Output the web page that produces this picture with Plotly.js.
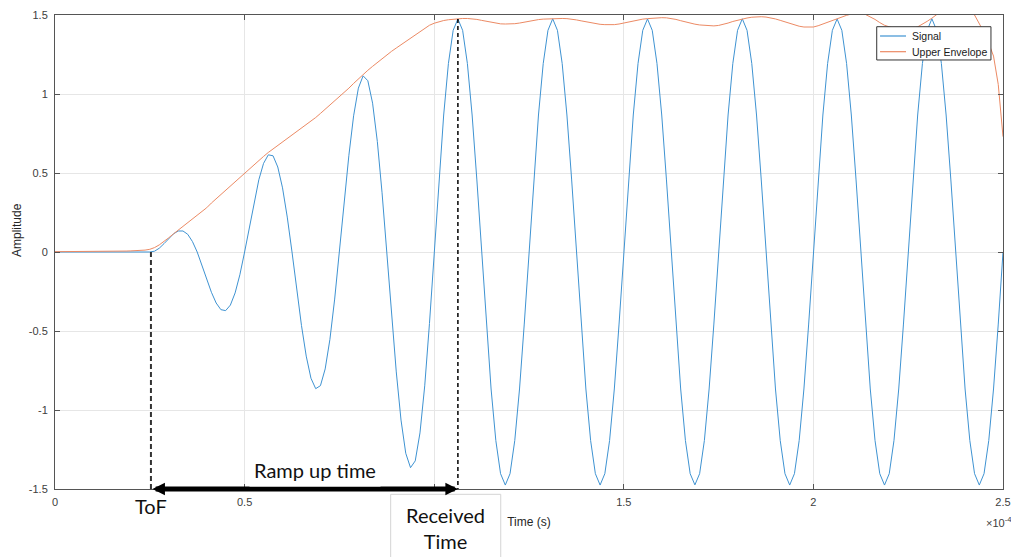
<!DOCTYPE html>
<html>
<head>
<meta charset="utf-8">
<script src="https://cdn.plot.ly/plotly-3.0.1.min.js"></script>
<style>
  html, body { margin: 0; padding: 0; background: #ffffff; }
  #chart { width: 1011px; height: 557px; }
</style>
</head>
<body>
<div id="chart"></div>
<script>
// ---- data ----
const samplePeriod = 1.25e-6;          // seconds between samples
const signalValues = [
  0,0,0,0,0,0,0,0,0,0, 0,0,0,0,0,0,0,0,0,0,
  0,0.005,0.024,0.053,0.086,0.115,0.133,0.133,0.112,0.066,
  0,-0.082,-0.171,-0.255,-0.323,-0.365,-0.371,-0.336,-0.259,-0.144,
  0,0.159,0.318,0.457,0.561,0.615,0.609,0.538,0.406,0.221,
  0,-0.236,-0.465,-0.659,-0.799,-0.865,-0.846,-0.740,-0.553,-0.298,
  0,0.314,0.612,0.862,1.037,1.115,1.084,0.942,0.700,0.375,
  0,-0.391,-0.759,-1.064,-1.274,-1.365,-1.322,-1.145,-0.847,-0.453,
  0,0.456,0.867,1.193,1.403,1.475,1.403,1.193,0.867,0.456,
  0,-0.456,-0.867,-1.193,-1.403,-1.475,-1.403,-1.193,-0.867,-0.456,
  0,0.456,0.867,1.193,1.403,1.476,1.403,1.193,0.867,0.456,
  0,-0.456,-0.867,-1.193,-1.403,-1.475,-1.403,-1.193,-0.867,-0.456,
  0,0.456,0.867,1.193,1.403,1.475,1.403,1.193,0.867,0.456,
  0,-0.456,-0.867,-1.193,-1.403,-1.474,-1.403,-1.193,-0.867,-0.456,
  0,0.456,0.867,1.193,1.403,1.476,1.403,1.193,0.867,0.456,
  0,-0.456,-0.867,-1.193,-1.403,-1.475,-1.403,-1.193,-0.867,-0.456,
  0,0.456,0.867,1.193,1.403,1.475,1.403,1.193,0.867,0.456,
  0,-0.456,-0.867,-1.193,-1.403,-1.475,-1.403,-1.193,-0.867,-0.456,
  0,0.456,0.867,1.193,1.403,1.476,1.403,1.193,0.867,0.456,
  0,-0.456,-0.867,-1.193,-1.403,-1.475,-1.403,-1.193,-0.867,-0.456,
  0
];
const envelopeValues = [
  0.002,0.002,0.002,0.002,0.002,0.003,0.003,0.003,0.003,0.003,
  0.004,0.004,0.004,0.005,0.005,0.006,0.007,0.008,0.009,0.012,
  0.017,0.028,0.045,0.066,0.09,0.115,0.138,0.161,0.185,0.208,
  0.232,0.255,0.28,0.31,0.337,0.364,0.392,0.419,0.447,0.474,
  0.502,0.528,0.554,0.58,0.605,0.63,0.652,0.673,0.694,0.715,
  0.736,0.758,0.78,0.802,0.826,0.851,0.877,0.903,0.93,0.955,
  0.98,1.008,1.037,1.067,1.096,1.125,1.15,1.175,1.2,1.225,
  1.248,1.27,1.291,1.312,1.332,1.353,1.374,1.394,1.415,1.435,
  1.448,1.458,1.465,1.47,1.474,1.477,1.478,1.478,1.476,1.472,
  1.466,1.46,1.453,1.447,1.444,1.443,1.443,1.445,1.449,1.455,
  1.461,1.467,1.471,1.474,1.476,1.477,1.478,1.478,1.477,1.474,
  1.469,1.463,1.457,1.45,1.445,1.441,1.439,1.438,1.439,1.443,
  1.45,1.457,1.464,1.47,1.474,1.477,1.48,1.482,1.483,1.482,
  1.478,1.472,1.464,1.456,1.448,1.442,1.437,1.434,1.432,1.431,
  1.434,1.44,1.449,1.459,1.468,1.475,1.481,1.486,1.489,1.489,
  1.487,1.482,1.475,1.466,1.456,1.446,1.437,1.429,1.424,1.422,
  1.424,1.432,1.443,1.456,1.468,1.477,1.488,1.498,1.506,1.51,
  1.51,1.503,1.49,1.472,1.452,1.435,1.425,1.415,1.41,1.408,
  1.41,1.415,1.425,1.44,1.46,1.48,1.505,1.525,1.54,1.55,
  1.555,1.55,1.54,1.525,1.5,1.445,1.39,1.32,1.24,1.06,
  0.73
];
const seriesNames = ['Signal', 'Upper Envelope'];
const seriesColors = ['#3f93d2', '#ec8a64'];
const xTickValues = [0, 0.5e-4, 1e-4, 1.5e-4, 2e-4, 2.5e-4];
const xTickLabels = ['0', '0.5', '', '1.5', '2', '2.5'];   // "1" is hidden under the Received Time box
const yTickValues = [-1.5, -1, -0.5, 0, 0.5, 1, 1.5];
const yTickLabels = ['-1.5', '-1', '-0.5', '0', '0.5', '1', '1.5'];
const timeOfFlight = 0.253e-4;        // ToF marker
const receivedTime = 1.0625e-4;       // received-time marker (first full peak)
const receivedPeak = 1.475;
const rampLabelTime = 0.686e-4;

// sample times
const sampleTimes = signalValues.map((_, i) => i * samplePeriod);

const axisFontFamily = 'Liberation Sans, Arial, sans-serif';
const tickFont = { family: axisFontFamily, size: 11, color: '#404040' };
const titleFont = { family: axisFontFamily, size: 12, color: '#262626' };
const noteFont = { family: 'Lato, Noto Sans, sans-serif', size: 20, color: '#111111' };

const traces = [
  { x: sampleTimes, y: signalValues, name: seriesNames[0], type: 'scatter', mode: 'lines',
    line: { color: seriesColors[0], width: 1 }, showlegend: false },
  { x: sampleTimes, y: envelopeValues, name: seriesNames[1], type: 'scatter', mode: 'lines',
    line: { color: seriesColors[1], width: 1 }, showlegend: false }
];

// legend box geometry (paper coords)
const lgX0 = 0.8668, lgX1 = 0.9873, lgY0 = 0.9051, lgY1 = 0.9753;
const lgRows = [0.9557, 0.9226];
const lgLineX = [0.8703, 0.8977];
const lgTextX = 0.9019;

const legendShapes = [
  { type: 'rect', xref: 'paper', yref: 'paper', layer: 'above',
    x0: lgX0, x1: lgX1, y0: lgY0, y1: lgY1,
    fillcolor: '#ffffff', line: { color: '#333333', width: 1 } }
].concat(seriesNames.map((n, i) => ({
    type: 'line', xref: 'paper', yref: 'paper', layer: 'above',
    x0: lgLineX[0], x1: lgLineX[1], y0: lgRows[i], y1: lgRows[i],
    line: { color: seriesColors[i], width: 1.2 } })));

const legendTexts = seriesNames.map((n, i) => ({
  xref: 'paper', yref: 'paper', x: lgTextX, y: lgRows[i], text: n, showarrow: false,
  xanchor: 'left', yanchor: 'middle',
  font: { family: axisFontFamily, size: 10.5, color: '#1a1a1a' } }));

const layout = {
  width: 1011, height: 557,
  margin: { l: 55, r: 8, t: 15, b: 68, pad: 0 },
  paper_bgcolor: '#ffffff', plot_bgcolor: '#ffffff',
  showlegend: false,
  xaxis: {
    range: [0, 2.5e-4], tickmode: 'array', tickvals: xTickValues, ticktext: xTickLabels,
    ticks: 'inside', ticklen: 5, tickcolor: '#555555', tickwidth: 1,
    showline: true, linecolor: '#555555', linewidth: 1, mirror: 'ticks',
    showgrid: true, gridcolor: '#e6e6e6', gridwidth: 1, zeroline: false,
    tickfont: tickFont, fixedrange: true, ticklabelstandoff: 3,
    title: { text: 'Time (s)', font: titleFont, standoff: 10 }
  },
  yaxis: {
    range: [-1.5, 1.5], tickmode: 'array', tickvals: yTickValues, ticktext: yTickLabels,
    ticks: 'inside', ticklen: 5, tickcolor: '#555555', tickwidth: 1,
    showline: true, linecolor: '#555555', linewidth: 1, mirror: 'ticks',
    showgrid: true, gridcolor: '#e6e6e6', gridwidth: 1, zeroline: false,
    tickfont: tickFont, fixedrange: true, ticklabelstandoff: 4
  },
  shapes: [
    { type: 'line', xref: 'x', yref: 'y', x0: timeOfFlight, x1: timeOfFlight, y0: 0, y1: -1.5,
      line: { color: '#333333', width: 2, dash: '5px,3px' } },
    { type: 'line', xref: 'x', yref: 'y', x0: receivedTime, x1: receivedTime, y0: receivedPeak, y1: -1.5,
      line: { color: '#000000', width: 1.5, dash: '4px,3px' } },
    { type: 'rect', xref: 'paper', yref: 'paper', layer: 'above',
      x0: 0.3541, x1: 0.4702, y0: -0.0112, y1: -0.2,
      fillcolor: '#ffffff', line: { color: '#d4d4d4', width: 1 } }
  ].concat(legendShapes),
  annotations: [
    { xref: 'x', yref: 'y', axref: 'x', ayref: 'y',
      x: receivedTime, y: -1.5, ax: timeOfFlight, ay: -1.5,
      text: '', showarrow: true, arrowside: 'end+start',
      arrowhead: 2, startarrowhead: 2, arrowsize: 0.5, startarrowsize: 0.5,
      arrowwidth: 5, arrowcolor: '#000000', standoff: 0, startstandoff: 0 },
    { xref: 'x', yref: 'paper', x: timeOfFlight, y: -0.036, text: 'ToF', showarrow: false,
      xanchor: 'center', yanchor: 'middle', font: noteFont },
    { xref: 'x', yref: 'paper', x: rampLabelTime, y: 0.04, text: 'Ramp up time', showarrow: false,
      xanchor: 'center', yanchor: 'middle', font: noteFont, bgcolor: '#ffffff', borderpad: 4 },
    { xref: 'paper', yref: 'paper', x: 0.4121, y: -0.082, text: 'Received<br>Time', showarrow: false,
      xanchor: 'center', yanchor: 'middle', font: noteFont, align: 'center' },
    { xref: 'paper', yref: 'paper', x: 0.996, y: -0.0696, text: '×10<sup>-4</sup>', showarrow: false,
      xanchor: 'center', yanchor: 'middle', font: tickFont },
    { xref: 'paper', yref: 'paper', x: -0.0401, y: 0.5464, text: 'Amplitude', showarrow: false,
      textangle: -90, xanchor: 'center', yanchor: 'middle', font: titleFont }
  ].concat(legendTexts)
};

Plotly.newPlot('chart', traces, layout, { staticPlot: true, displayModeBar: false });
</script>
</body>
</html>
